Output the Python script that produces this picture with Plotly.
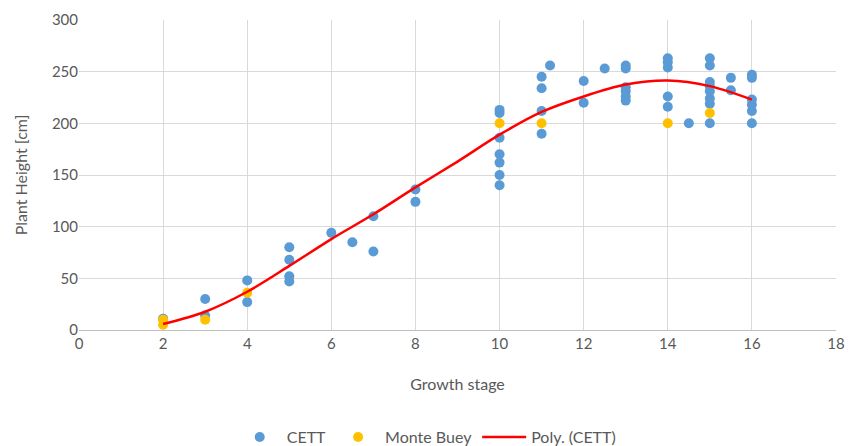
import plotly.graph_objects as go

# CETT field measurements: growth stage vs plant height (cm)
cett_stage = [2, 3, 3, 4, 4, 5, 5, 5, 5, 6, 6.5, 7, 7, 8, 8,
              10, 10, 10, 10, 10, 10, 10,
              11, 11, 11, 11, 11.2, 12, 12, 12.5,
              13, 13, 13, 13, 13, 13,
              14, 14, 14, 14, 14, 14.5,
              15, 15, 15, 15, 15, 15, 15, 15,
              15.5, 15.5,
              16, 16, 16, 16, 16, 16]
cett_height = [11, 30, 14, 48, 27, 80, 68, 52, 47, 94, 85, 110, 76, 136, 124,
               213, 210, 186, 170, 162, 150, 140,
               245, 234, 212, 190, 256, 241, 220, 253,
               256, 253, 235, 231, 226, 222,
               263, 259, 254, 226, 216, 200,
               263, 256, 240, 236, 231, 224, 219, 200,
               244, 232,
               247, 244, 223, 218, 212, 200]

# Monte Buey measurements
mb_stage = [2, 2, 3, 4, 10, 11, 14, 15]
mb_height = [10, 5, 10, 36, 200, 200, 200, 210]

# Polynomial trendline of the CETT series, sampled at each growth stage
trend_stage = [2, 3, 4, 5, 6, 7, 8, 9, 10, 11, 12, 13, 14, 15, 16]
trend_height = [5.8, 17.7, 37, 62, 88, 112, 138, 163, 189, 211, 226, 237.5, 241.5, 236, 223]

font_family = "Lato, 'Open Sans', sans-serif"
grey = "#595959"

fig = go.Figure()
fig.add_trace(go.Scatter(
    x=cett_stage, y=cett_height, mode="markers", name="CETT",
    marker=dict(color="#5B9BD5", size=10, line=dict(width=0)),
))
fig.add_trace(go.Scatter(
    x=mb_stage, y=mb_height, mode="markers", name="Monte Buey",
    marker=dict(color="#FFC000", size=10, line=dict(width=0)),
))
fig.add_trace(go.Scatter(
    x=trend_stage, y=trend_height, mode="lines", name="Poly. (CETT)",
    line=dict(color="#FF0000", width=2.5, shape="spline", smoothing=0.9),
))

fig.update_layout(
    width=849, height=446,
    margin=dict(l=79, r=13, t=20, b=116),
    paper_bgcolor="white", plot_bgcolor="white",
    font=dict(family=font_family, size=15, color=grey),
    showlegend=True,
    legend=dict(orientation="h", x=0.46, xanchor="center",
                yref="container", y=0.02, yanchor="middle",
                font=dict(size=16, color=grey), itemwidth=44, tracegroupgap=0),
    xaxis=dict(
        range=[0, 18], tickmode="linear", tick0=0, dtick=2,
        showgrid=True, gridcolor="#d9d9d9", gridwidth=1,
        showline=True, linecolor="#bfbfbf", linewidth=1, mirror=False,
        zeroline=False, ticks="", ticklen=0, automargin=False,
        title=dict(text="Growth stage", font=dict(size=16, color=grey), standoff=27),
        tickfont=dict(size=15, color=grey),
    ),
    yaxis=dict(
        range=[0, 300], tickmode="linear", tick0=0, dtick=50,
        showgrid=True, gridcolor="#d9d9d9", gridwidth=1,
        showline=False, zeroline=False, ticks="", automargin=False,
        title=dict(text="Plant Height [cm]", font=dict(size=16, color=grey), standoff=20),
        tickfont=dict(size=15, color=grey),
    ),
)

fig.write_html("out.html")
